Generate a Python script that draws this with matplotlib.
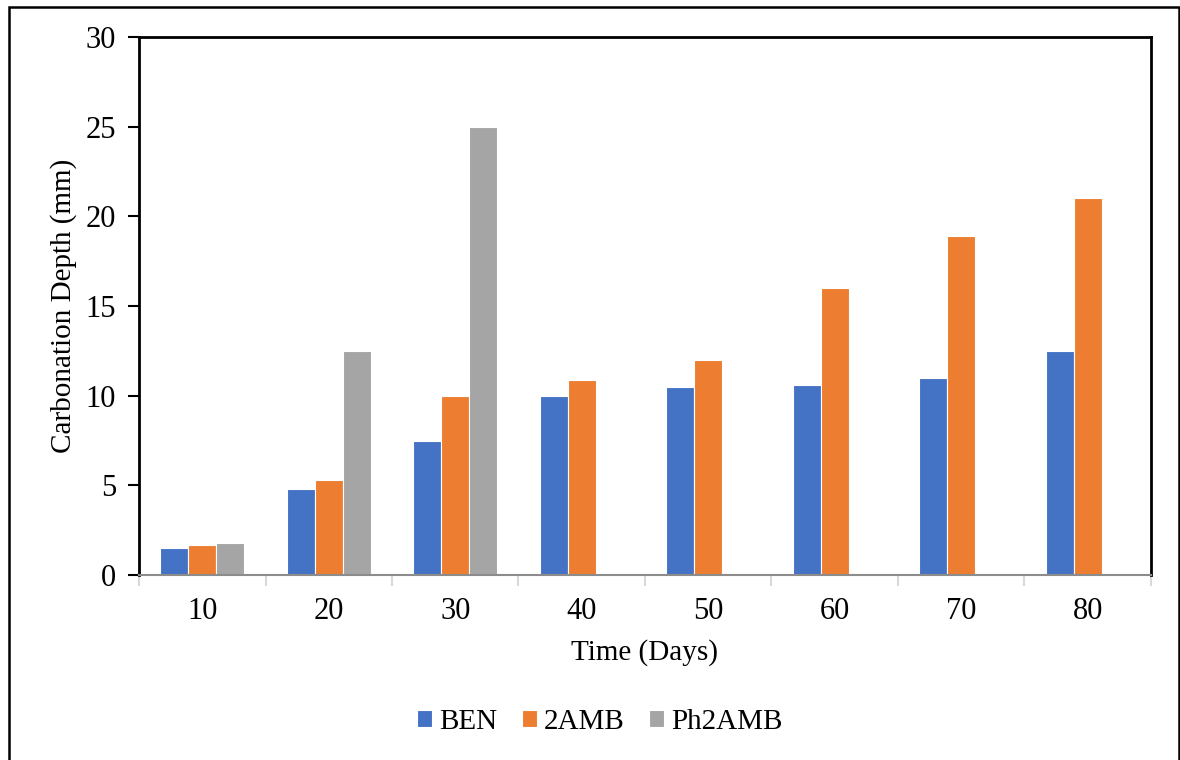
import numpy as np
import matplotlib.pyplot as plt
from matplotlib.patches import Rectangle

plt.rcParams['font.family'] = ['Liberation Serif', 'DejaVu Serif']

days = ['10', '20', '30', '40', '50', '60', '70', '80']
ben = [1.5, 4.8, 7.5, 10.0, 10.5, 10.6, 11.0, 12.5]
amb2 = [1.65, 5.3, 10.0, 10.9, 12.0, 16.0, 18.9, 21.0]
ph2amb = [1.8, 12.5, 25.0, np.nan, np.nan, np.nan, np.nan, np.nan]

series = [('BEN', ben, '#4472C4'), ('2AMB', amb2, '#ED7D31'), ('Ph2AMB', ph2amb, '#A5A5A5')]

fig = plt.figure(figsize=(11.8, 7.6), dpi=100)
ax = fig.add_axes([0.1178, 0.2434, 0.8576, 0.7079])

x = np.arange(len(days))
w = 0.222
for i, (name, vals, col) in enumerate(series):
    ax.bar(x + (i - 1) * w, vals, w, color=col, label=name,
           edgecolor='white', linewidth=0.8, zorder=2)

ax.set_xlim(-0.5, len(days) - 0.5)
ax.set_ylim(0, 30)
ax.set_yticks(range(0, 31, 5))
ax.set_xticks(x)
ax.set_xticklabels(days)
ax.set_xticks(np.arange(-0.5, len(days), 1), minor=True)

ax.tick_params(axis='y', direction='out', length=8, width=1.5, color='black',
               labelsize=22, pad=8.5)
ax.tick_params(axis='x', which='major', length=0, labelsize=22, pad=16)
ax.tick_params(axis='x', which='minor', length=8, width=1.5, color='#D9D9D9')

for s in ['left', 'top', 'right']:
    ax.spines[s].set_linewidth(2)
    ax.spines[s].set_color('black')
ax.spines['bottom'].set_linewidth(1.5)
ax.spines['bottom'].set_color('#8C8C8C')

ax.set_ylabel('Carbonation Depth (mm)', fontsize=21, labelpad=6)
ax.set_xlabel('Time (Days)', fontsize=21, labelpad=9)

# legend centred on the whole chart, not just the plot area
fig.legend(*ax.get_legend_handles_labels(), loc='center',
           bbox_to_anchor=(600 / 1180, 1 - 722 / 760), ncol=3, frameon=False,
           fontsize=21, handlelength=0.5, handleheight=0.5, columnspacing=0.85,
           handletextpad=0.25)

# outer chart frame, open at the bottom
fig.patches.append(Rectangle((9 / 1180, -0.05), 1170 / 1180, 1.05 - 7 / 760,
                             transform=fig.transFigure, fill=False,
                             edgecolor='black', linewidth=1.8))

fig.savefig('out.png', dpi=100)
